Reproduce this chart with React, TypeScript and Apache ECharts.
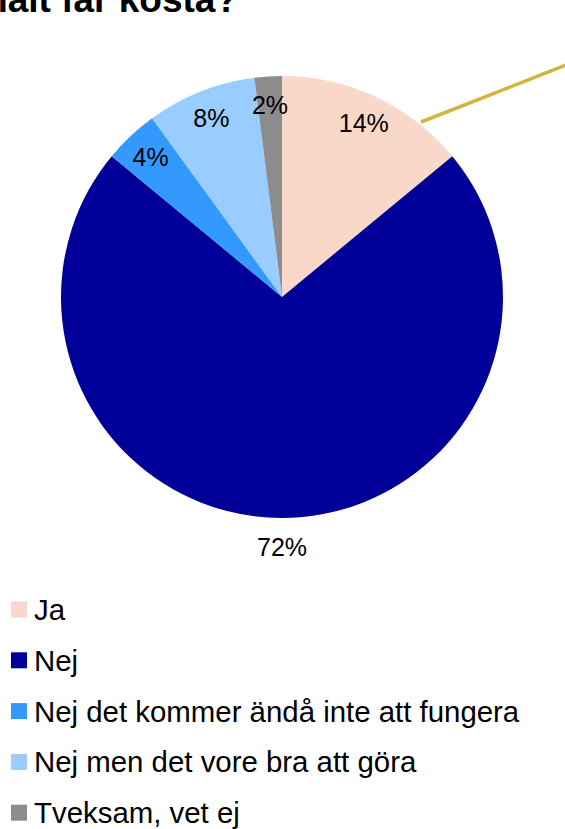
import React, { useEffect, useRef } from "react";
import * as echarts from "echarts";

const categories = [
  "Ja",
  "Nej",
  "Nej det kommer ändå inte att fungera",
  "Nej men det vore bra att göra",
  "Tveksam, vet ej",
];
const values = [14, 72, 4, 8, 2];
const colors = ["#F9D8C9", "#000099", "#3399FF", "#99CCFF", "#8C8C8C"];
const titleText = "malt får kosta?";
const FONT = "'Liberation Sans', Arial, Helvetica, sans-serif";

export default function App() {
  const ref = useRef<HTMLDivElement>(null);
  useEffect(() => {
    if (!ref.current) return;
    const chart = echarts.init(ref.current, undefined, { renderer: "svg" });
    const data = categories.map((name, i) => ({
      name,
      value: values[i],
      itemStyle: { color: colors[i] },
    }));
    const cx = 282;
    const cy = 297;
    const R = 221;
    const labelStyle = {
      show: true,
      position: "inside",
      formatter: "{c}%",
      fontFamily: FONT,
      fontSize: 25,
      color: "#000000",
    };
    chart.setOption({
      animation: false,
      backgroundColor: "#ffffff",
      legend: {
        orient: "vertical",
        left: 11,
        top: 595,
        height: 320,
        padding: 0,
        itemWidth: 16,
        itemHeight: 16,
        itemGap: 21.8,
        icon: "rect",
        data: categories,
        selectedMode: false,
        textStyle: {
          fontFamily: FONT,
          fontSize: 29.4,
          lineHeight: 28,
          color: "#000000",
          padding: [0, 0, 0, 2],
        },
      },
      graphic: [
        {
          type: "text",
          x: 238,
          y: -1,
          style: {
            text: titleText,
            fontFamily: FONT,
            fontWeight: "bold",
            fontSize: 37,
            fill: "#000000",
            align: "right",
            verticalAlign: "middle",
          },
        },
        {
          type: "line",
          shape: { x1: 421, y1: 122, x2: 580, y2: 59.5 },
          style: { stroke: "#D4B43C", lineWidth: 3.5 },
        },
      ],
      series: [
        {
          type: "pie",
          center: [cx, cy],
          radius: [0, R],
          startAngle: 90,
          clockwise: true,
          silent: true,
          label: { show: false },
          labelLine: { show: false },
          data,
        },
        {
          type: "pie",
          center: [cx, cy],
          radius: [160, 218],
          startAngle: 90,
          clockwise: true,
          silent: true,
          labelLine: { show: false },
          label: labelStyle,
          data: categories.map((name, i) => ({
            name,
            value: values[i],
            itemStyle: { color: "rgba(0,0,0,0)" },
            label: { show: i !== 1 },
          })),
        },
        {
          type: "pie",
          center: [cx, cy],
          radius: [232, 262],
          startAngle: 90,
          clockwise: true,
          silent: true,
          labelLine: { show: false },
          label: labelStyle,
          data: categories.map((name, i) => ({
            name,
            value: values[i],
            itemStyle: { color: "rgba(0,0,0,0)" },
            label: { show: i === 1 },
          })),
        },
      ],
    });
    return () => chart.dispose();
  }, []);
  return (
    <div
      ref={ref}
      style={{ position: "absolute", left: 0, top: 0, width: 565, height: 829 }}
    />
  );
}
